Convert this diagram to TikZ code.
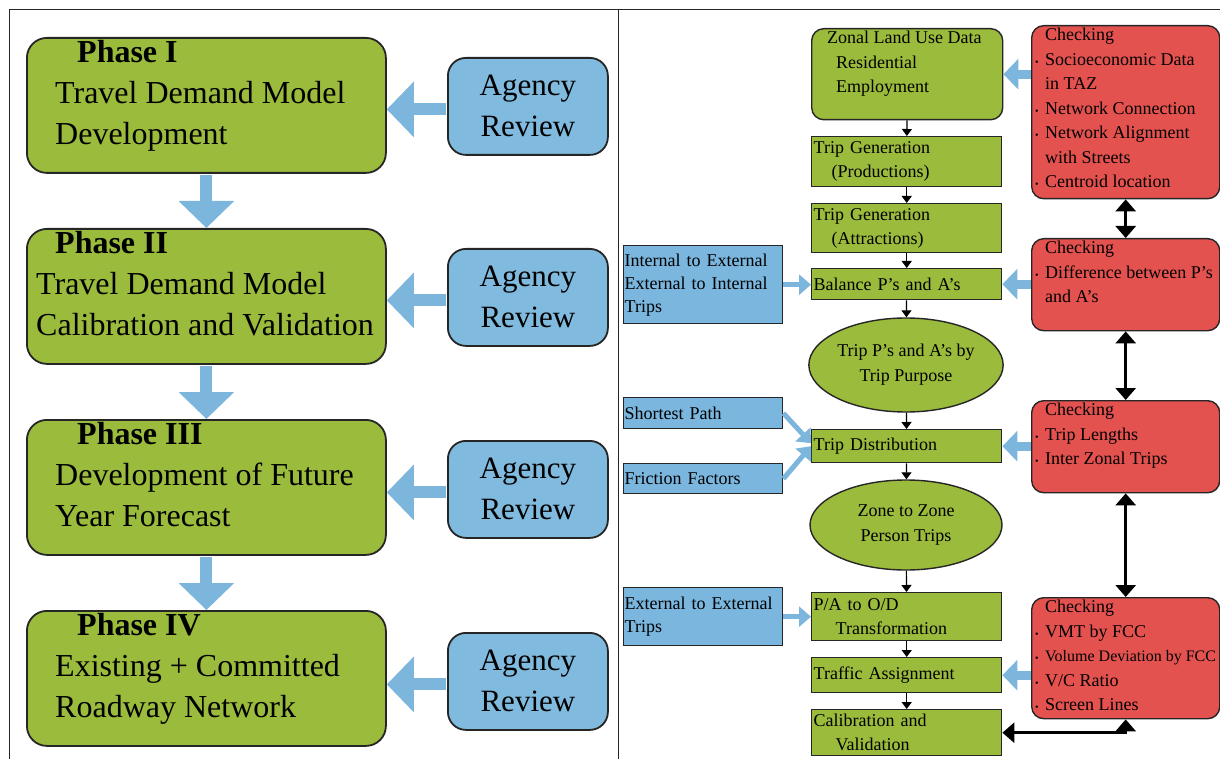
\documentclass[tikz,border=0pt]{standalone}
\usepackage{fontspec}
\setmainfont{Liberation Serif}
\usepackage{tikz}
\usetikzlibrary{positioning,arrows.meta,shapes.geometric}

\definecolor{boxgreen}{RGB}{155,187,60}
\definecolor{agencyblue}{RGB}{128,186,222}
\definecolor{inblue}{RGB}{122,182,222}
\definecolor{arrowblue}{RGB}{125,182,220}
\definecolor{checkred}{RGB}{228,82,80}
\definecolor{edge}{RGB}{38,38,38}

\newcommand{\bul}{\makebox[10pt][l]{\fontsize{10}{10}\selectfont\textbullet}}

\begin{document}
\begin{tikzpicture}[x=1pt,y=-1pt,
  phasebox/.style={draw=edge,line width=1.8pt,fill=boxgreen,rounded corners=20pt,
    minimum width=359pt,minimum height=135pt,anchor=north west},
  phasetext/.style={align=left,inner sep=0pt,font=\fontsize{32}{41}\selectfont},
  agencybox/.style={draw=edge,line width=1.8pt,fill=agencyblue,rounded corners=18pt,
    minimum width=160pt,minimum height=97pt,anchor=north west,align=center,
    font=\fontsize{31}{41}\selectfont},
  bigarrow/.style={draw=arrowblue,line width=12pt,shorten <=1pt,-{Triangle[length=27pt,width=54pt]}},
  tripbox/.style={draw=edge,line width=1.4pt,fill=boxgreen,anchor=north west,
    text width=186pt,inner xsep=2pt,inner ysep=0pt,align=left,
    font=\fontsize{18}{24}\selectfont},
  ovalnode/.style={ellipse,draw=edge,line width=1.4pt,fill=boxgreen,minimum width=192pt,
    align=center,inner sep=0pt,font=\fontsize{18}{25}\selectfont},
  inputbox/.style={draw=edge,line width=1.4pt,fill=inblue,anchor=north west,
    text width=157pt,inner xsep=1pt,inner ysep=0pt,align=left,
    font=\fontsize{18}{23}\selectfont},
  checkbox/.style={draw=edge,line width=1.4pt,fill=checkred,rounded corners=12pt,
    minimum width=188pt,anchor=north west},
  checktext/.style={align=left,inner sep=0pt,font=\fontsize{18}{24.5}\selectfont},
  flowarrow/.style={draw=black,line width=1.2pt,-{Triangle[length=7pt,width=10pt]}},
  checkarrow/.style={draw=black,line width=3pt,
    {Triangle[length=12pt,width=20pt]}-{Triangle[length=12pt,width=20pt]}},
  feedarrow/.style={draw=arrowblue,line width=5pt,-{Triangle[length=12pt,width=20pt]}},
  backarrow/.style={draw=arrowblue,line width=9pt,-{Triangle[length=15pt,width=30pt]}}]

\useasboundingbox (0,0) rectangle (1220,759);
\draw[edge,line width=1pt] (9,759) |- (1220,10);
\draw[edge,line width=1pt] (618,10) -- (618,759);

% phases
\node[phasebox] (p1) at (26,37) {};
\node[phasebox] (p2) at (26,228) {};
\node[phasebox] (p3) at (26,419) {};
\node[phasebox] (p4) at (26,610) {};
\node[phasetext, below right=3pt and 29pt of p1.north west] (p1t)
  {\hspace*{22pt}\textbf{Phase I}\\Travel Demand Model\\Development};
\node[phasetext, below right=3pt and 10pt of p2.north west] (p2t)
  {\hspace*{19pt}\textbf{Phase II}\\Travel Demand Model\\Calibration and Validation};
\node[phasetext, below right=3pt and 29pt of p3.north west] (p3t)
  {\hspace*{22pt}\textbf{Phase III}\\Development of Future\\Year Forecast};
\node[phasetext, below right=3pt and 29pt of p4.north west] (p4t)
  {\hspace*{22pt}\textbf{Phase IV}\\Existing + Committed\\Roadway Network};

\node[agencybox] (a1) at (447,57) {Agency\\Review};
\node[agencybox] (a2) at (447,248) {Agency\\Review};
\node[agencybox] (a3) at (447,440) {Agency\\Review};
\node[agencybox] (a4) at (447,632) {Agency\\Review};

\draw[bigarrow] (p1.south) -- (p2.north);
\draw[bigarrow] (p2.south) -- (p3.north);
\draw[bigarrow] (p3.south) -- (p4.north);
\foreach \i in {1,...,4}
  \draw[bigarrow] ([yshift=-3pt]a\i.west) -- ([yshift=-3pt]p\i.east |- a\i.west);

% model steps
\node[draw=edge,line width=1.4pt,fill=boxgreen,rounded corners=12pt,anchor=north west,
  minimum width=191pt,minimum height=91pt] (z) at (811,28) {};
\node[checktext, below right=3pt and 16pt of z.north west] (zt)
  {Zonal Land Use Data\\\hspace*{9pt}Residential\\\hspace*{9pt}Employment};
\node[tripbox,minimum height=50pt] (tg1) at (811,136) {Trip Generation\\\hspace*{18pt}(Productions)};
\node[tripbox,minimum height=49pt] (tg2) at (811,203) {Trip Generation\\\hspace*{18pt}(Attractions)};
\node[tripbox,minimum height=31pt] (bal) at (811,268) {Balance P’s and A’s};
\node[ovalnode,minimum height=94pt] (e1) at (906,365) {Trip P’s and A’s by\\Trip Purpose};
\node[tripbox,minimum height=33pt] (td) at (811,429) {Trip Distribution};
\node[ovalnode,minimum height=90pt] (e2) at (906,525) {Zone to Zone\\Person Trips};
\node[tripbox,minimum height=48pt] (pa) at (811,592) {P/A to O/D\\\hspace*{22pt}Transformation};
\node[tripbox,minimum height=35pt] (ta) at (811,657) {Traffic Assignment};
\node[tripbox,minimum height=46pt] (cv) at (811,709) {Calibration and\\\hspace*{22pt}Validation};

\draw[flowarrow] (z) -- (tg1);
\draw[flowarrow] (tg1) -- (tg2);
\draw[flowarrow] (tg2) -- (bal);
\draw[flowarrow] (bal) -- (e1);
\draw[flowarrow] (e1) -- (td);
\draw[flowarrow] (td) -- (e2);
\draw[flowarrow] (e2) -- (pa);
\draw[flowarrow] (pa) -- (ta);
\draw[flowarrow] (ta) -- (cv);

% inputs
\node[inputbox,minimum height=78pt] (ie) at (623,245) {Internal to External\\External to Internal\\Trips};
\node[inputbox,minimum height=31pt] (sp) at (623,397) {Shortest Path};
\node[inputbox,minimum height=30pt] (ff) at (623,463) {Friction Factors};
\node[inputbox,minimum height=58pt] (ee) at (623,587) {External to External\\Trips};

\draw[feedarrow] (ie.east) -- (ie.east -| bal.west);
\draw[feedarrow] (sp.east) -- ([yshift=3pt]td.west);
\draw[feedarrow] (ff.east) -- (td.west);
\draw[feedarrow] (ee.east) -- (ee.east -| pa.west);

% checks
\node[checkbox,minimum height=173pt] (r1) at (1031,25) {};
\node[checkbox,minimum height=92pt] (r2) at (1031,238) {};
\node[checkbox,minimum height=92pt] (r3) at (1031,400) {};
\node[checkbox,minimum height=121pt] (r4) at (1031,597) {};
\node[checktext, below right=3pt and 4pt of r1.north west] (r1t)
  {\hspace*{10pt}Checking\\\bul Socioeconomic Data\\\hspace*{10pt}in TAZ\\\bul Network Connection\\
   \bul Network Alignment\\\hspace*{10pt}with Streets\\\bul Centroid location};
\node[checktext, below right=3pt and 4pt of r2.north west] (r2t)
  {\hspace*{10pt}Checking\\\bul Difference between P’s\\\hspace*{10pt}and A’s};
\node[checktext, below right=3pt and 4pt of r3.north west] (r3t)
  {\hspace*{10pt}Checking\\\bul Trip Lengths\\\bul Inter Zonal Trips};
\node[checktext, below right=3pt and 4pt of r4.north west] (r4t)
  {\hspace*{10pt}Checking\\\bul VMT by FCC\\\bul {\fontsize{16}{24.5}\selectfont Volume Deviation by FCC}\\
   \bul V/C Ratio\\\bul Screen Lines};

\draw[backarrow] (r1.west |- z.east) -- (z.east);
\draw[backarrow] (r2.west |- bal.east) -- (bal.east);
\draw[backarrow] (r3.west |- td.east) -- (td.east);
\draw[backarrow] (r4.west |- ta.east) -- (ta.east);

\draw[checkarrow] (r1) -- (r2);
\draw[checkarrow] (r2) -- (r3);
\draw[checkarrow] (r3) -- (r4);
\draw[checkarrow] (cv.east) -| (r4.south);
\end{tikzpicture}
\end{document}
